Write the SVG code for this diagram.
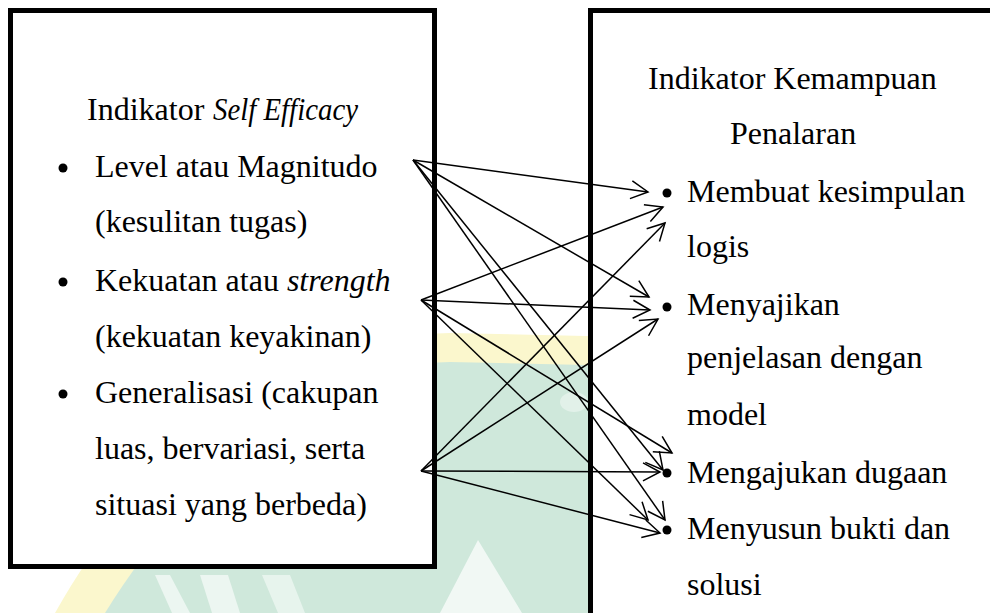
<svg xmlns="http://www.w3.org/2000/svg" width="990" height="613" viewBox="0 0 990 613">
<defs>
<style>
.box{fill:#fff;stroke:#000;stroke-width:5}
.t{font-family:'Liberation Serif','DejaVu Serif',serif;font-size:32px;fill:#000}
.i{font-style:italic}
.b{fill:#000}
.c{stroke:#000;stroke-width:1.5;fill:none}
</style>
<marker id="ah" markerWidth="24" markerHeight="24" refX="20" refY="12" orient="auto" markerUnits="userSpaceOnUse" viewBox="0 0 24 24">
<path d="M3,3 L20,12 L3,21" fill="none" stroke="#000" stroke-width="1.5"/>
</marker>
</defs>
<rect width="990" height="613" fill="#fff"/>
<g id="watermark">
<path d="M55,613 C140,460 290,336 450,333 L990,345 L990,613 Z" fill="#fbf7cd"/>
<path d="M105,613 C190,475 320,364 450,362 L990,374 L990,613 Z" fill="#cfe8db"/>
<path d="M478,540 L440,613 L522,613 Z" fill="#fff" opacity="0.7"/>
<path d="M155,575 L170,575 L190,613 L172,613 Z" fill="#fff" opacity="0.6"/>
<path d="M200,575 L228,575 L240,613 L212,613 Z" fill="#fff" opacity="0.6"/>
<path d="M262,575 L290,575 L305,613 L278,613 Z" fill="#fff" opacity="0.5"/>
<ellipse cx="574" cy="402" rx="14" ry="10" fill="#fff" opacity="0.4"/>
</g>
<g id="left-box">
<rect class="box" x="10.5" y="10.5" width="424" height="556"/>
<text class="t" x="87" y="120">Indikator <tspan class="i" x="213" textLength="145" lengthAdjust="spacingAndGlyphs">Self Efficacy</tspan></text>
<circle class="b" cx="63" cy="168" r="4.5"/>
<text class="t" x="95" y="177">Level atau Magnitudo</text>
<text class="t" x="95" y="232">(kesulitan tugas)</text>
<circle class="b" cx="63" cy="282" r="4.5"/>
<text class="t" x="95" y="291">Kekuatan atau <tspan class="i">strength</tspan></text>
<text class="t" x="95" y="347">(kekuatan keyakinan)</text>
<circle class="b" cx="63" cy="394" r="4.5"/>
<text class="t" x="95" y="403">Generalisasi (cakupan</text>
<text class="t" x="95" y="459">luas, bervariasi, serta</text>
<text class="t" x="95" y="515">situasi yang berbeda)</text>
</g>
<g id="right-box">
<rect class="box" x="590.5" y="10.5" width="430" height="700"/>
<text class="t" x="648" y="89">Indikator Kemampuan</text>
<text class="t" x="730" y="144">Penalaran</text>
<circle class="b" cx="667" cy="193" r="4.5"/>
<text class="t" x="687" y="202">Membuat kesimpulan</text>
<text class="t" x="687" y="257">logis</text>
<circle class="b" cx="667" cy="307" r="4.5"/>
<text class="t" x="687" y="315">Menyajikan</text>
<text class="t" x="687" y="368">penjelasan dengan</text>
<text class="t" x="687" y="425">model</text>
<circle class="b" cx="667" cy="473" r="4.5"/>
<text class="t" x="687" y="483">Mengajukan dugaan</text>
<circle class="b" cx="667" cy="530" r="4.5"/>
<text class="t" x="687" y="539">Menyusun bukti dan</text>
<text class="t" x="687" y="595">solusi</text>
</g>
<g id="connectors">
<line class="c" x1="413" y1="160" x2="648" y2="192" marker-end="url(#ah)"/>
<line class="c" x1="413" y1="160" x2="649" y2="297" marker-end="url(#ah)"/>
<line class="c" x1="413" y1="160" x2="663" y2="470" marker-end="url(#ah)"/>
<line class="c" x1="413" y1="160" x2="665" y2="520" marker-end="url(#ah)"/>
<line class="c" x1="421" y1="300" x2="663" y2="207" marker-end="url(#ah)"/>
<line class="c" x1="421" y1="300" x2="650" y2="310" marker-end="url(#ah)"/>
<line class="c" x1="421" y1="300" x2="672" y2="453" marker-end="url(#ah)"/>
<line class="c" x1="421" y1="300" x2="648" y2="520" marker-end="url(#ah)"/>
<line class="c" x1="421" y1="471" x2="665" y2="223" marker-end="url(#ah)"/>
<line class="c" x1="421" y1="471" x2="658" y2="319" marker-end="url(#ah)"/>
<line class="c" x1="421" y1="471" x2="660" y2="472" marker-end="url(#ah)"/>
<line class="c" x1="421" y1="471" x2="660" y2="533" marker-end="url(#ah)"/>
</g>
</svg>
